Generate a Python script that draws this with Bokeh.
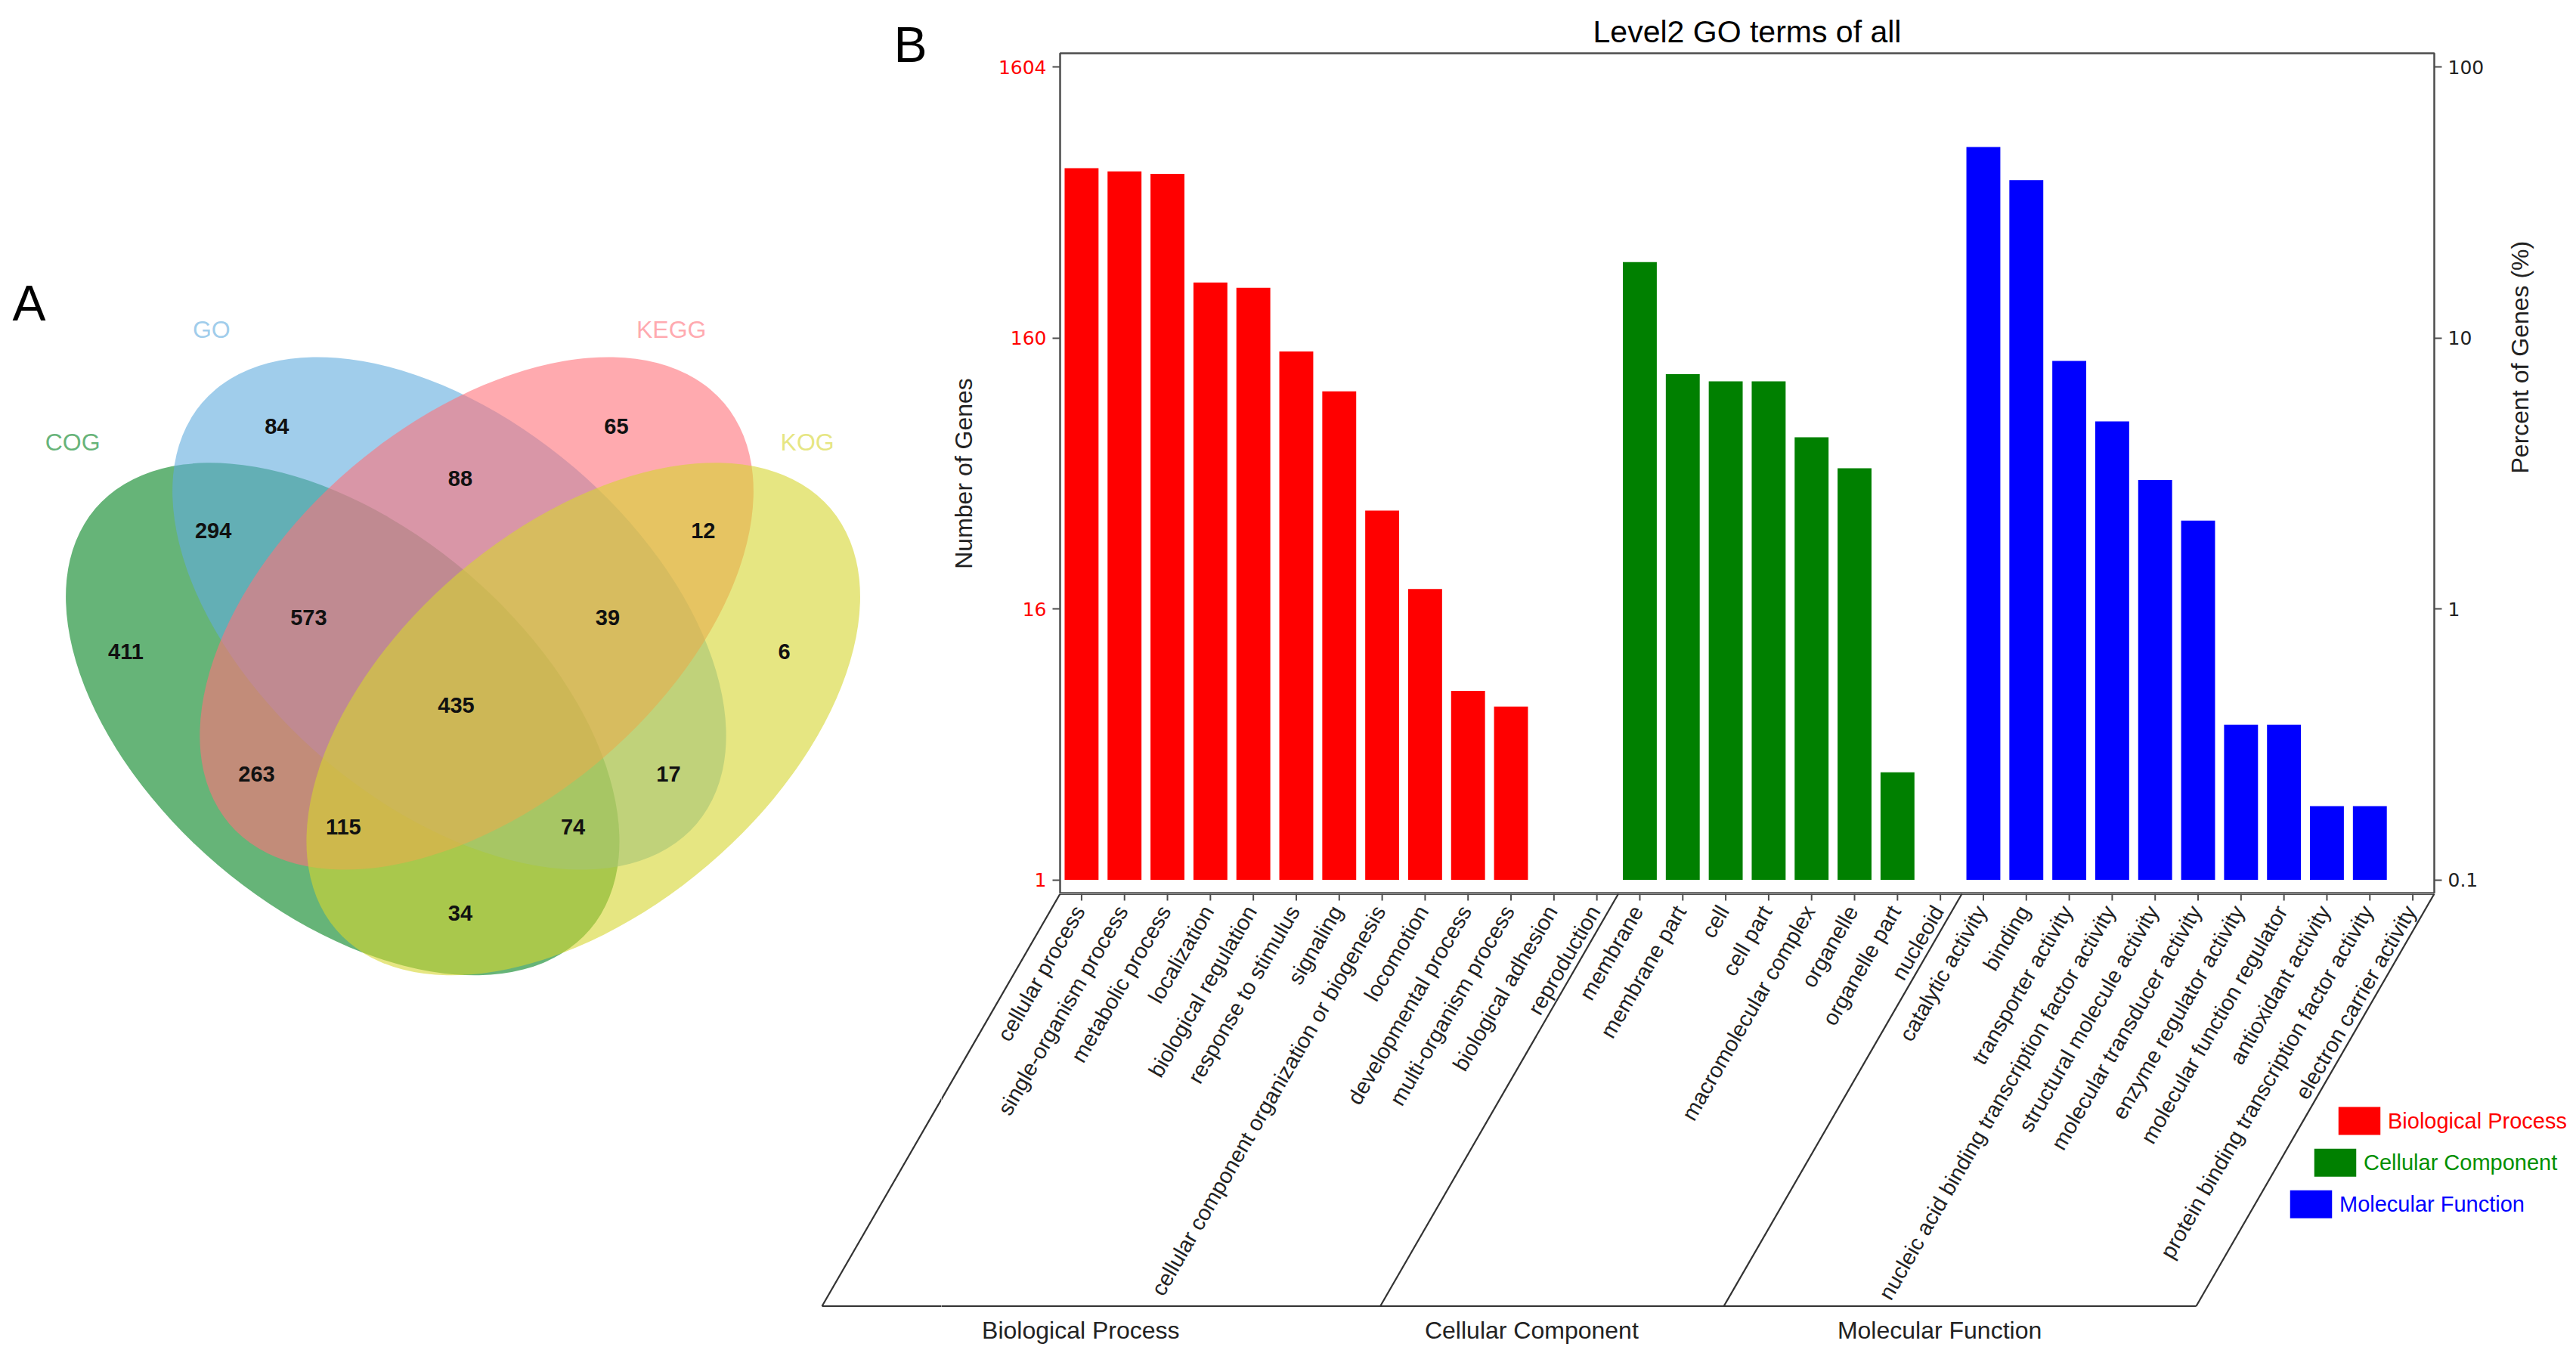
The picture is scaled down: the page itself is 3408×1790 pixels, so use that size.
import math
from bokeh.plotting import figure
from bokeh.layouts import column, row
from bokeh.models import (Range1d, FactorRange, LogAxis, FixedTicker,
                          CustomJSTickFormatter, ColumnDataSource)
from bokeh.core.properties import value
from bokeh.embed import file_html
from bokeh.resources import INLINE

# ---------------------------------------------------------------- data
VENN_SETS = ["COG", "GO", "KEGG", "KOG"]
VENN_REGIONS = ["COG", "GO", "KEGG", "KOG",
                "COG&GO", "GO&KEGG", "KEGG&KOG", "COG&KOG",
                "COG&GO&KEGG", "GO&KEGG&KOG", "COG&KEGG", "GO&KOG",
                "COG&KEGG&KOG", "COG&GO&KOG", "COG&GO&KEGG&KOG"]
VENN_COUNTS = [411, 84, 65, 6,
               294, 88, 12, 34,
               573, 39, 263, 17,
               115, 74, 435]

BP_TERMS = ["cellular process", "single-organism process", "metabolic process",
            "localization", "biological regulation", "response to stimulus",
            "signaling", "cellular component organization or biogenesis",
            "locomotion", "developmental process", "multi-organism process",
            "biological adhesion", "reproduction"]
BP_COUNTS = [680, 661, 648, 257, 246, 143, 102, 37, 19, 8, 7, 1, 1]

CC_TERMS = ["membrane", "membrane part", "cell", "cell part",
            "macromolecular complex", "organelle", "organelle part", "nucleoid"]
CC_COUNTS = [306, 118, 111, 111, 69, 53, 4, 1]

MF_TERMS = ["catalytic activity", "binding", "transporter activity",
            "nucleic acid binding transcription factor activity",
            "structural molecule activity", "molecular transducer activity",
            "enzyme regulator activity", "molecular function regulator",
            "antioxidant activity", "protein binding transcription factor activity",
            "electron carrier activity"]
MF_COUNTS = [813, 614, 132, 79, 48, 34, 6, 6, 3, 3, 1]

TOTAL_GENES = 1604
GROUP_NAMES = ["Biological Process", "Cellular Component", "Molecular Function"]
PCT_TICKS = [0.1, 1, 10, 100]
LEFT_TICK_LABELS = ["1", "16", "160", "1604"]
RIGHT_TICK_LABELS = ["0.1", "1", "10", "100"]

# ---------------------------------------------------------------- styles / layout
FONT = "Liberation Sans"
TICK_FONT = "DejaVu Sans"
DARK = "#222222"
FRAME_C = "#4d4d4d"
LINE_C = "#333333"
VENN_COLORS = ["#00821e", "#61acde", "#ff717a", "#d5d52f"]
VENN_ALPHA = 0.6
GROUP_COLORS = ["#ff0000", "#008000", "#0000ff"]
LEGEND_TEXT_COLORS = ["#ff0000", "#009000", "#0000ff"]

PAGE_R, PAGE_B = 3400, 1785
SPLIT_X = 1245          # left edge of panel B figures (screen px)
SEAM_Y = 1182           # bottom of the bar frame (screen px)
FL, FR, FT = 1402, 3220, 70
Y_TOP, Y_BOTTOM = 112.5, 0.0888
BASE_PCT = 0.1
BAR_W = 0.79
PAR_BOTTOM = 1727.5
SLANT = math.radians(60)

# Venn layout (screen px)
VENN_CX = [452.8, 593.9, 630.1, 771.2]
VENN_CY = [950.8, 811.0, 811.0, 950.8]
VENN_A, VENN_B = 429.6, 254.1
VENN_PHI = math.radians(40.4)
VENN_ANG = [-VENN_PHI, -VENN_PHI, VENN_PHI, VENN_PHI]
VENN_SET_POS = [(95.7, 584.8), (279.3, 435.6), (887.7, 435.6), (1067.6, 584.8)]
VENN_REGION_POS = [(166, 861.9), (365.8, 563.4), (815, 563.4), (1037, 861.9),
                   (281.6, 701.9), (608.4, 632.3), (929.8, 701.9), (608.4, 1207.8),
                   (407.9, 816.7), (803.5, 816.7), (339, 1023.4), (884, 1023.4),
                   (453.8, 1093), (757.6, 1093), (603, 932.3)]

ALL_TERMS = BP_TERMS + CC_TERMS + MF_TERMS
N_CAT = len(ALL_TERMS)
U = (FR - FL) / N_CAT
DROP_X = (PAR_BOTTOM - SEAM_Y) / math.tan(SLANT)

sizes = [len(BP_TERMS), len(CC_TERMS), len(MF_TERMS)]
bounds = [0]
for s in sizes:
    bounds.append(bounds[-1] + s)


def clean(p):
    p.grid.grid_line_color = None
    p.background_fill_color = "white"
    p.border_fill_color = "white"
    p.outline_line_color = None
    try:
        p.frame_align = False
    except Exception:
        pass


def draw_parallelograms(p):
    # slanted separators of the three GO categories + base line (screen px)
    xt = [FL + b * U for b in bounds]
    p.segment(x0=xt, y0=[-SEAM_Y] * len(xt), x1=[v - DROP_X for v in xt],
              y1=[-PAR_BOTTOM] * len(xt), line_color=LINE_C, line_width=2.2)
    p.segment(x0=[xt[0] - DROP_X], y0=[-PAR_BOTTOM], x1=[xt[-1] - DROP_X],
              y1=[-PAR_BOTTOM], line_color=LINE_C, line_width=2.2)


# ---------------------------------------------------------------- panel A (full height)
pv = figure(width=SPLIT_X, height=PAGE_B,
            x_range=Range1d(0, SPLIT_X), y_range=Range1d(-PAGE_B, 0),
            x_axis_location=None, y_axis_location=None, min_border=0,
            output_backend="svg", toolbar_location=None)
clean(pv)
venn_src = ColumnDataSource(dict(
    x=VENN_CX, y=[-v for v in VENN_CY],
    w=[2 * VENN_A] * 4, h=[2 * VENN_B] * 4,
    ang=VENN_ANG, c=VENN_COLORS))
pv.ellipse(x="x", y="y", width="w", height="h", angle="ang",
           fill_color="c", fill_alpha=VENN_ALPHA, line_color=None, source=venn_src)
pv.text(x=[q[0] for q in VENN_REGION_POS], y=[-q[1] for q in VENN_REGION_POS],
        text=[str(v) for v in VENN_COUNTS],
        text_font=value(FONT), text_font_size=value("29px"),
        text_font_style="bold", text_color="#111111",
        text_align="center", text_baseline="middle")
pv.text(x=[q[0] for q in VENN_SET_POS], y=[-q[1] for q in VENN_SET_POS],
        text=VENN_SETS, text_color=VENN_COLORS, text_alpha=VENN_ALPHA,
        text_font=value(FONT), text_font_size=value("32px"),
        text_align="center", text_baseline="middle")
pv.text(x=[38, 1204], y=[-400, -58], text=["A", "B"],
        text_font=value(FONT), text_font_size=value("66px"), text_color="black",
        text_align="center", text_baseline="middle")
draw_parallelograms(pv)

# ---------------------------------------------------------------- panel B bars
pt = figure(width=PAGE_R - SPLIT_X, height=SEAM_Y,
            x_range=FactorRange(factors=ALL_TERMS),
            y_range=Range1d(Y_BOTTOM, Y_TOP), y_axis_type="log",
            x_axis_location=None, y_axis_location="left",
            min_border_left=FL - SPLIT_X, min_border_right=PAGE_R - FR,
            min_border_top=FT, min_border_bottom=0,
            title="Level2 GO terms of all",
            output_backend="svg", toolbar_location=None)
clean(pt)
pt.outline_line_color = FRAME_C
pt.outline_line_width = 2.5
pt.title.text_font = FONT
pt.title.text_font_size = "41px"
pt.title.text_font_style = "normal"
pt.title.text_color = "black"
pt.title.align = "center"
pt.title.standoff = 12
pt.title.offset = -13

for terms, counts, color in zip([BP_TERMS, CC_TERMS, MF_TERMS],
                                [BP_COUNTS, CC_COUNTS, MF_COUNTS], GROUP_COLORS):
    pct = [c / TOTAL_GENES * 100 for c in counts]
    src = ColumnDataSource(dict(x=terms, top=[max(v, BASE_PCT) for v in pct]))
    pt.vbar(x="x", top="top", bottom=BASE_PCT, width=BAR_W, fill_color=color,
            line_color=None, source=src)

FMT_CODE = """
for (let i = 0; i < tv.length; i++) {
  if (Math.abs(Math.log10(tick) - Math.log10(tv[i])) < 1e-6) return tl[i];
}
return "";
"""


def style_axis(ax, labels, color, title):
    ax.ticker = FixedTicker(ticks=PCT_TICKS)
    ax.formatter = CustomJSTickFormatter(args=dict(tv=PCT_TICKS, tl=labels), code=FMT_CODE)
    ax.major_label_text_color = color
    ax.major_label_text_font = TICK_FONT
    ax.major_label_text_font_size = "25px"
    ax.major_label_standoff = 8
    ax.major_tick_out = 10
    ax.major_tick_in = 0
    ax.major_tick_line_color = FRAME_C
    ax.major_tick_line_width = 2
    ax.minor_tick_line_color = None
    ax.axis_line_color = None
    ax.axis_label = title
    ax.axis_label_text_font = FONT
    ax.axis_label_text_font_size = "32px"
    ax.axis_label_text_font_style = "normal"
    ax.axis_label_text_color = DARK


left = pt.yaxis[0]
style_axis(left, LEFT_TICK_LABELS, "#ff0000", "Number of Genes")
left.axis_label_standoff = 25
right = LogAxis()
style_axis(right, RIGHT_TICK_LABELS, DARK, "Percent of Genes (%)")
right.axis_label_standoff = 45
try:
    right.axis_label_orientation = math.pi / 2
except Exception:
    pass
pt.add_layout(right, "right")

# ---------------------------------------------------------------- panel B lower part
pb = figure(width=PAGE_R - SPLIT_X, height=PAGE_B - SEAM_Y,
            x_range=Range1d(SPLIT_X, PAGE_R), y_range=Range1d(-PAGE_B, -SEAM_Y),
            x_axis_location=None, y_axis_location=None, min_border=0,
            output_backend="svg", toolbar_location=None)
clean(pb)
pb.extra_x_ranges = {"cat": Range1d(start=(SPLIT_X - FL) / U, end=(PAGE_R - FL) / U)}

centers = [i + 0.5 for i in range(N_CAT)]
# frame bottom continuation and tick marks
pb.segment(x0=[0], y0=[-SEAM_Y], x1=[N_CAT], y1=[-SEAM_Y], line_color=FRAME_C,
           line_width=3, x_range_name="cat")
pb.segment(x0=centers, y0=[-SEAM_Y] * N_CAT, x1=centers, y1=[-(SEAM_Y + 9)] * N_CAT,
           line_color=FRAME_C, line_width=2, x_range_name="cat")
# category labels
pb.text(x=[c - 3 / U for c in centers], y=[-(SEAM_Y + 18)] * N_CAT, text=ALL_TERMS,
        angle=math.pi / 3, text_align="right", text_baseline="middle",
        text_font=value(FONT), text_font_size=value("29px"), text_color=DARK,
        x_range_name="cat")
draw_parallelograms(pb)
pb.text(x=[FL + (bounds[k] + bounds[k + 1]) / 2 * U - DROP_X - 27 for k in range(3)],
        y=[-1759.6] * 3, text=GROUP_NAMES, text_align="center", text_baseline="middle",
        text_font=value(FONT), text_font_size=value("32px"), text_color=DARK)

# legend
LEG_X = [3121.0, 3089.0, 3057.0]
LEG_Y = [1482.5, 1537.8, 1592.7]
pb.rect(x=LEG_X, y=[-v for v in LEG_Y], width=55.5, height=37,
        fill_color=GROUP_COLORS, line_color=None)
pb.text(x=[v + 37.5 for v in LEG_X], y=[-v for v in LEG_Y], text=GROUP_NAMES,
        text_color=LEGEND_TEXT_COLORS, text_align="left", text_baseline="middle",
        text_font=value(FONT), text_font_size=value("29px"))

layout = row(pv, column(pt, pb))
open("out.html", "w").write(file_html(layout, INLINE))
